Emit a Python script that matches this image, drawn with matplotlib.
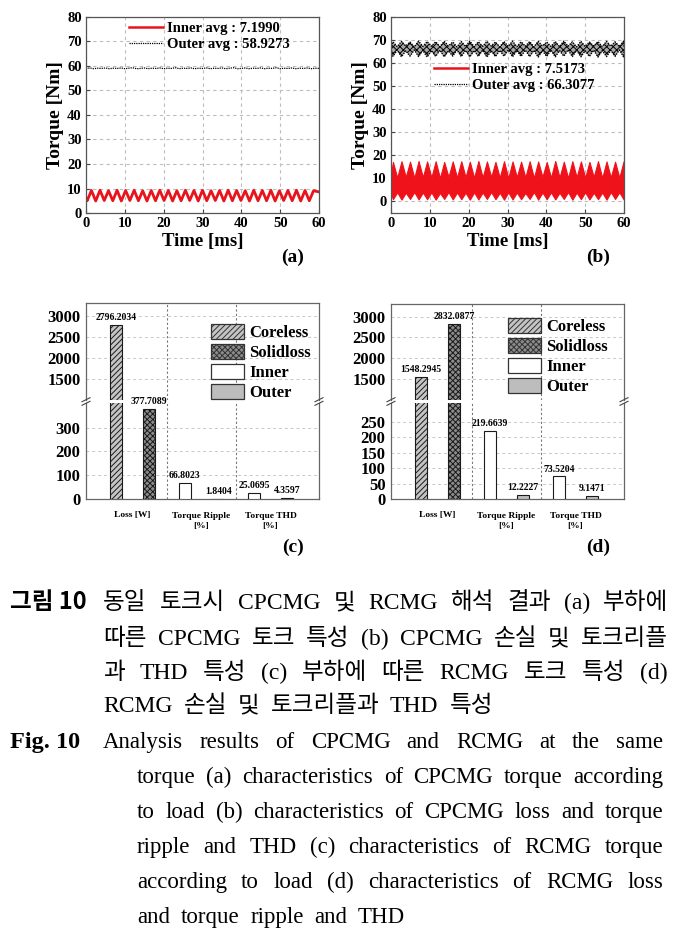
import numpy as np
import matplotlib
matplotlib.use('Agg')
import matplotlib.pyplot as plt
from matplotlib.lines import Line2D
from matplotlib.patches import Patch
from matplotlib.font_manager import FontProperties

# ---------------- data ----------------
time_ticks = [0, 10, 20, 30, 40, 50, 60]
torque_ticks = [0, 10, 20, 30, 40, 50, 60, 70, 80]

# (a) CPCMG inner torque ripple: peaks and valleys
a_inner_peak_t = [1.4, 3.6, 5.8, 8.0, 10.2, 12.4, 14.6, 16.8, 19.0, 21.2, 23.4, 25.6, 27.8, 30.0,
                  32.2, 34.4, 36.6, 38.8, 41.0, 43.2, 45.4, 47.6, 49.8, 52.0, 54.2, 56.4, 58.6]
a_inner_peak_v = [9.2, 9.3, 9.1, 9.3, 9.2, 9.3, 9.1, 9.2, 9.3, 9.2, 9.1, 9.3, 9.2, 9.3,
                  9.1, 9.2, 9.3, 9.2, 9.1, 9.3, 9.2, 9.3, 9.1, 9.2, 9.3, 9.2, 9.1]
a_inner_valley_t = [0.0, 0.3, 2.5, 4.7, 6.9, 9.1, 11.3, 13.5, 15.7, 17.9, 20.1, 22.3, 24.5, 26.7, 28.9,
                    31.1, 33.3, 35.5, 37.7, 39.9, 42.1, 44.3, 46.5, 48.7, 50.9, 53.1, 55.3, 57.5, 60.0]
a_inner_valley_v = [6.2, 5.0, 4.9, 5.1, 5.0, 4.9, 5.1, 5.0, 4.9, 5.0, 5.1, 4.9, 5.0, 5.1, 4.9,
                    5.0, 5.1, 4.9, 5.0, 5.1, 4.9, 5.0, 5.0, 4.9, 5.1, 5.0, 4.9, 5.0, 8.6]
a_outer_t = list(range(0, 61))
a_outer_v = [59.0, 59.2, 58.9, 59.1, 59.0, 59.2, 58.9, 59.1, 59.0, 59.2, 58.9, 59.1, 59.3, 58.9, 59.0,
             59.2, 58.9, 59.1, 59.0, 59.2, 58.9, 59.1, 59.0, 59.3, 58.9, 59.1, 59.0, 59.2, 58.9, 59.1,
             59.0, 59.2, 58.9, 59.1, 59.0, 59.2, 58.9, 59.1, 59.3, 58.9, 59.0, 59.2, 58.9, 59.1, 59.0,
             59.2, 58.9, 59.1, 59.0, 59.3, 58.9, 59.1, 59.0, 59.2, 58.9, 59.1, 59.0, 59.2, 58.9, 59.1, 59.0]
a_legend = ['Inner avg : 7.1990', 'Outer avg : 58.9273']

# (b) RCMG torque: envelopes of the dense ripple
b_peak_t = [0.5, 2.7, 4.9, 7.1, 9.3, 11.5, 13.7, 15.9, 18.1, 20.3, 22.5, 24.7, 26.9, 29.1,
            31.3, 33.5, 35.7, 37.9, 40.1, 42.3, 44.5, 46.7, 48.9, 51.1, 53.3, 55.5, 57.7, 59.9]
b_mid_t = [0.0, 1.6, 3.8, 6.0, 8.2, 10.4, 12.6, 14.8, 17.0, 19.2, 21.4, 23.6, 25.8, 28.0,
           30.2, 32.4, 34.6, 36.8, 39.0, 41.2, 43.4, 45.6, 47.8, 50.0, 52.2, 54.4, 56.6, 58.8, 60.0]
b_inner_up_peak = [17.0, 17.3, 17.1, 17.4, 17.2, 17.3, 17.0, 17.2, 17.3, 17.1, 17.4, 17.2, 17.0, 17.3,
                   17.2, 17.1, 17.3, 17.2, 17.0, 17.4, 17.1, 17.3, 17.2, 17.0, 17.3, 17.2, 17.1, 17.3]
b_inner_lo_peak = [0.8, 0.6, 0.9, 0.7, 0.8, 0.6, 0.9, 0.7, 0.8, 0.6, 0.7, 0.9, 0.8, 0.6,
                   0.7, 0.8, 0.9, 0.6, 0.8, 0.7, 0.9, 0.6, 0.8, 0.7, 0.8, 0.6, 0.9, 0.7]
b_inner_up_mid = [12.0, 10.2, 10.5, 10.1, 10.4, 10.3, 10.0, 10.5, 10.2, 10.4, 10.1, 10.3, 10.5, 10.2,
                  10.0, 10.4, 10.3, 10.1, 10.5, 10.2, 10.3, 10.0, 10.4, 10.2, 10.5, 10.1, 10.3, 10.2, 11.0]
b_inner_lo_mid = [3.0, 3.8, 3.6, 3.9, 3.7, 3.8, 3.5, 3.9, 3.7, 3.6, 3.8, 3.7, 3.9, 3.6,
                  3.8, 3.7, 3.5, 3.9, 3.7, 3.8, 3.6, 3.9, 3.7, 3.8, 3.6, 3.7, 3.9, 3.8, 3.2]
b_outer_up_peak = [69.2, 69.4, 69.1, 69.5, 69.3, 69.2, 69.4, 69.1, 69.3, 69.5, 69.2, 69.4, 69.1, 69.3,
                   69.5, 69.2, 69.3, 69.4, 69.1, 69.3, 69.5, 69.2, 69.4, 69.1, 69.3, 69.4, 69.2, 69.5]
b_outer_lo_peak = [62.9, 62.7, 63.0, 62.8, 62.6, 62.9, 62.7, 63.0, 62.8, 62.7, 62.9, 62.6, 62.8, 63.0,
                   62.7, 62.9, 62.8, 62.6, 62.9, 62.7, 63.0, 62.8, 62.7, 62.9, 62.6, 62.8, 62.9, 62.7]
b_outer_up_mid = [67.3, 67.1, 67.4, 67.0, 67.2, 67.3, 67.1, 67.4, 67.0, 67.2, 67.1, 67.3, 67.4, 67.0,
                  67.2, 67.1, 67.3, 67.0, 67.4, 67.2, 67.1, 67.3, 67.0, 67.2, 67.4, 67.1, 67.3, 67.2, 67.1]
b_outer_lo_mid = [65.4, 65.6, 65.3, 65.7, 65.5, 65.4, 65.6, 65.3, 65.7, 65.5, 65.4, 65.6, 65.3, 65.5,
                  65.7, 65.4, 65.6, 65.5, 65.3, 65.6, 65.4, 65.7, 65.5, 65.3, 65.6, 65.4, 65.5, 65.7, 65.4]
b_legend = ['Inner avg : 7.5173', 'Outer avg : 66.3077']

# (c), (d) loss / ripple / THD bars
bar_categories = ['Loss [W]', 'Torque Ripple\n[%]', 'Torque THD\n[%]']
bar_series = ['Coreless', 'Solidloss', 'Inner', 'Outer']
c_coreless = [2796.2034]
c_solidloss = [377.7089]
c_inner = [66.8023, 25.0695]
c_outer = [1.8404, 4.3597]
d_coreless = [1548.2945]
d_solidloss = [2832.0877]
d_inner = [219.6639, 73.5204]
d_outer = [12.2227, 9.1471]
upper_ticks = [1500, 2000, 2500, 3000]
c_lower_ticks = [0, 100, 200, 300]
d_lower_ticks = [0, 50, 100, 150, 200, 250]

caption_kr_head = '그림 10'
caption_kr_lines = ['동일 토크시 CPCMG 및 RCMG 해석 결과 (a) 부하에',
                    '따른 CPCMG 토크 특성 (b) CPCMG 손실 및 토크리플',
                    '과 THD 특성 (c) 부하에 따른 RCMG 토크 특성 (d)',
                    'RCMG 손실 및 토크리플과 THD 특성']
caption_en_head = 'Fig. 10'
caption_en_lines = ['Analysis results of CPCMG and RCMG at the same',
                    'torque (a) characteristics of CPCMG torque according',
                    'to load (b) characteristics of CPCMG loss and torque',
                    'ripple and THD (c) characteristics of RCMG torque',
                    'according to load (d) characteristics of RCMG loss',
                    'and torque ripple and THD']

# ---------------- figure ----------------
W, H = 683, 934
fig = plt.figure(figsize=(W / 100, H / 100), dpi=100)
SERIF = ['Liberation Serif', 'DejaVu Serif']
plt.rcParams['hatch.linewidth'] = 0.7


def rect(l, t, r, b):
    return [l / W, 1 - b / H, (r - l) / W, (b - t) / H]


def style_ts(ax, ylim):
    ax.set_xlim(0, 60)
    ax.set_ylim(*ylim)
    ax.set_xticks(time_ticks)
    ax.set_yticks(torque_ticks)
    ax.grid(True, linestyle=(0, (3, 3)), color='#bdbdbd', linewidth=0.8)
    ax.set_axisbelow(True)
    ax.tick_params(direction='in', length=3, width=0.8, color='#444444', pad=3)
    for lab in ax.get_xticklabels() + ax.get_yticklabels():
        lab.set_family(SERIF)
        lab.set_fontweight('bold')
        lab.set_fontsize(10.5)
    for s in ax.spines.values():
        s.set_color('#555555')
        s.set_linewidth(0.9)
    ax.set_xlabel('Time [ms]', family=SERIF, fontweight='bold', fontsize=13.5, labelpad=2)
    ax.set_ylabel('Torque [Nm]', family=SERIF, fontweight='bold', fontsize=14, labelpad=2)


# (a)
axa = fig.add_axes(rect(86, 17, 319, 213))
ta = np.array(a_inner_peak_t + a_inner_valley_t)
va = np.array(a_inner_peak_v + a_inner_valley_v)
o = np.argsort(ta)
axa.plot(ta[o], va[o], color='#e8141b', linewidth=2.0)
axa.plot(a_outer_t, a_outer_v, color='black', linewidth=0.9, linestyle=(0, (1, 0.8)))
style_ts(axa, (0, 80))
h_a = [Line2D([], [], color='#e8141b', linewidth=1.8),
       Line2D([], [], color='black', linewidth=0.9, linestyle=(0, (1, 0.8)))]
fig.legend(h_a, a_legend, loc='upper left', bbox_to_anchor=(129 / W, 1 - 22 / H), frameon=False,
           prop=FontProperties(family=SERIF, weight='bold', size=10.5), handlelength=2.3,
           handletextpad=0.3, borderpad=0, borderaxespad=0, labelspacing=0.2)
fig.text(293 / W, 1 - 257 / H, '(a)', family=SERIF, fontweight='bold', fontsize=14, ha='center', va='center')

# (b)
axb = fig.add_axes(rect(391, 17, 624, 213))
tb = np.array(b_peak_t + b_mid_t)
o = np.argsort(tb)
in_up = np.array(b_inner_up_peak + b_inner_up_mid)[o]
in_lo = np.array(b_inner_lo_peak + b_inner_lo_mid)[o]
out_up = np.array(b_outer_up_peak + b_outer_up_mid)[o]
out_lo = np.array(b_outer_lo_peak + b_outer_lo_mid)[o]
tb = tb[o]
axb.fill_between(tb, in_lo, in_up, facecolor='#f0121a', edgecolor='#f0121a', linewidth=0.8)
axb.fill_between(tb, out_lo, out_up, facecolor='#a8a8a8', edgecolor='black', hatch='xxxxx', linewidth=0)
axb.plot(tb, out_up, color='black', linewidth=1.0, linestyle=(0, (1, 0.8)))
axb.plot(tb, out_lo, color='black', linewidth=1.0, linestyle=(0, (1, 0.8)))
style_ts(axb, (-5.2, 80))
fig.legend(h_a, b_legend, loc='upper left', bbox_to_anchor=(434 / W, 1 - 63 / H), frameon=False,
           prop=FontProperties(family=SERIF, weight='bold', size=10.5), handlelength=2.3,
           handletextpad=0.3, borderpad=0, borderaxespad=0, labelspacing=0.2)
fig.text(598 / W, 1 - 257 / H, '(b)', family=SERIF, fontweight='bold', fontsize=14, ha='center', va='center')

# bar panels
styles = {
    'Coreless': dict(facecolor='#c4c4c4', hatch='//////', edgecolor='#1a1a1a'),
    'Solidloss': dict(facecolor='#8c8c8c', hatch='xxxxxx', edgecolor='#1a1a1a'),
    'Inner': dict(facecolor='white', hatch=None, edgecolor='#1a1a1a'),
    'Outer': dict(facecolor='#bdbdbd', hatch=None, edgecolor='#1a1a1a'),
}
pos = np.arange(1, len(bar_categories) + 1)
off = 0.24
bw = 0.17


def bar_panel(l, r, top, brk_hi, brk_lo, bottom, hi_lim, lo_lim, lo_ticks,
              coreless, solid, inner, outer, leg_xy, plabel, plabel_xy):
    ax_hi = fig.add_axes(rect(l, top, r, brk_hi))
    ax_lo = fig.add_axes(rect(l, brk_lo, r, bottom))
    series = [('Coreless', [pos[0] - off], coreless),
              ('Solidloss', [pos[0] + off], solid),
              ('Inner', list(pos[1:] - off), inner),
              ('Outer', list(pos[1:] + off), outer)]
    for ax in (ax_hi, ax_lo):
        for name, xs, vals in series:
            st = styles[name]
            ax.bar(xs, vals, width=bw, facecolor=st['facecolor'], hatch=st['hatch'],
                   edgecolor=st['edgecolor'], linewidth=0.8, zorder=3)
        ax.set_xlim(0.33, 3.70)
        for xv in (1.5, 2.5):
            ax.axvline(xv, color='#777777', linestyle=(0, (2, 2)), linewidth=0.8, zorder=1)
        ax.grid(True, axis='y', linestyle=(0, (3, 3)), color='#c8c8c8', linewidth=0.7, zorder=0)
        ax.set_axisbelow(True)
        for s in ax.spines.values():
            s.set_color('#666666')
            s.set_linewidth(0.9)
        ax.tick_params(axis='y', length=0, pad=4)
    ax_hi.set_ylim(*hi_lim)
    ax_hi.set_yticks(upper_ticks)
    ax_lo.set_ylim(*lo_lim)
    ax_lo.set_yticks(lo_ticks)
    for ax in (ax_hi, ax_lo):
        for lab in ax.get_yticklabels():
            lab.set_family(SERIF)
            lab.set_fontweight('bold')
            lab.set_fontsize(12)
    ax_hi.spines['bottom'].set_visible(False)
    ax_lo.spines['top'].set_visible(False)
    ax_hi.set_xticks([])
    ax_lo.set_xticks(pos)
    ax_lo.set_xticklabels(bar_categories, family=SERIF, fontweight='bold', fontsize=6.8, linespacing=1.4)
    ax_lo.tick_params(axis='x', length=0, pad=9)
    # value labels
    for name, xs, vals in series:
        for xv, v in zip(xs, vals):
            ax = ax_hi if v > lo_lim[1] else ax_lo
            ax.annotate(f'{v:.4f}', (xv, v), xytext=(0, 2), textcoords='offset points',
                        ha='center', va='bottom', family=SERIF, fontweight='bold', fontsize=7,
                        annotation_clip=False, zorder=5)
    # break marks
    ymid = (brk_hi + brk_lo) / 2
    for xp in (l, r):
        for dy in (-1.8, 1.8):
            fig.add_artist(Line2D([(xp - 4) / W, (xp + 4) / W],
                                  [1 - (ymid + dy + 2) / H, 1 - (ymid + dy - 2) / H],
                                  color='#444444', linewidth=0.8))
    handles = [Patch(facecolor=styles[n]['facecolor'], hatch=styles[n]['hatch'],
                     edgecolor='#333333', linewidth=0.9) for n in bar_series]
    fig.legend(handles, bar_series, loc='upper left', bbox_to_anchor=(leg_xy[0] / W, 1 - leg_xy[1] / H),
               frameon=False, prop=FontProperties(family=SERIF, weight='bold', size=12),
               handlelength=2.0, handleheight=1.0, handletextpad=0.3, borderpad=0,
               borderaxespad=0, labelspacing=0.17)
    fig.text(plabel_xy[0] / W, 1 - plabel_xy[1] / H, plabel, family=SERIF, fontweight='bold',
             fontsize=14, ha='center', va='center')


bar_panel(86, 319, 303, 400, 403, 499, (1000, 3310), (0, 404), c_lower_ticks,
          c_coreless, c_solidloss, c_inner, c_outer, (211, 324), '(c)', (293, 547))
bar_panel(391, 624, 304, 400, 403, 499, (1000, 3300), (0, 311), d_lower_ticks,
          d_coreless, d_solidloss, d_inner, d_outer, (508, 318), '(d)', (598, 547))

# ---------------- captions ----------------
renderer = fig.canvas.get_renderer()


def width_of(s, fp):
    t = fig.text(0, 0, s, fontproperties=fp)
    w = t.get_window_extent(renderer).width
    t.remove()
    return w


def draw_line(text, x0, x1, ybase, fp, justify=True):
    words = text.split(' ')
    widths = [width_of(w, fp) for w in words]
    if justify and len(words) > 1:
        gap = (x1 - x0 - sum(widths)) / (len(words) - 1)
    else:
        gap = width_of('a a', fp) - width_of('aa', fp) + 5
    x = x0
    for w, wd in zip(words, widths):
        fig.text(x / W, 1 - ybase / H, w, fontproperties=fp, ha='left', va='baseline')
        x += wd + gap


fp_kr = FontProperties(family=['Liberation Serif', 'Noto Sans CJK KR'], size=17)
fp_kr_b = FontProperties(family=['Noto Sans CJK KR', 'Liberation Serif'], size=17, weight='bold')
fp_en = FontProperties(family=SERIF, size=16.5)
fp_en_b = FontProperties(family=SERIF, size=17.5, weight='bold')

fig.text(10 / W, 1 - 609 / H, caption_kr_head, fontproperties=fp_kr_b, ha='left', va='baseline')
kr_base = [609, 645, 679, 712]
for i, line in enumerate(caption_kr_lines):
    draw_line(line, 103, 668, kr_base[i], fp_kr, justify=(i < len(caption_kr_lines) - 1))

fig.text(10 / W, 1 - 748 / H, caption_en_head, fontproperties=fp_en_b, ha='left', va='baseline')
en_base = [748, 783, 818, 853, 888, 923]
for i, line in enumerate(caption_en_lines):
    x0 = 103 if i == 0 else 137
    draw_line(line, x0, 663, en_base[i], fp_en, justify=(i < len(caption_en_lines) - 1))

fig.savefig('out.png', dpi=100)
